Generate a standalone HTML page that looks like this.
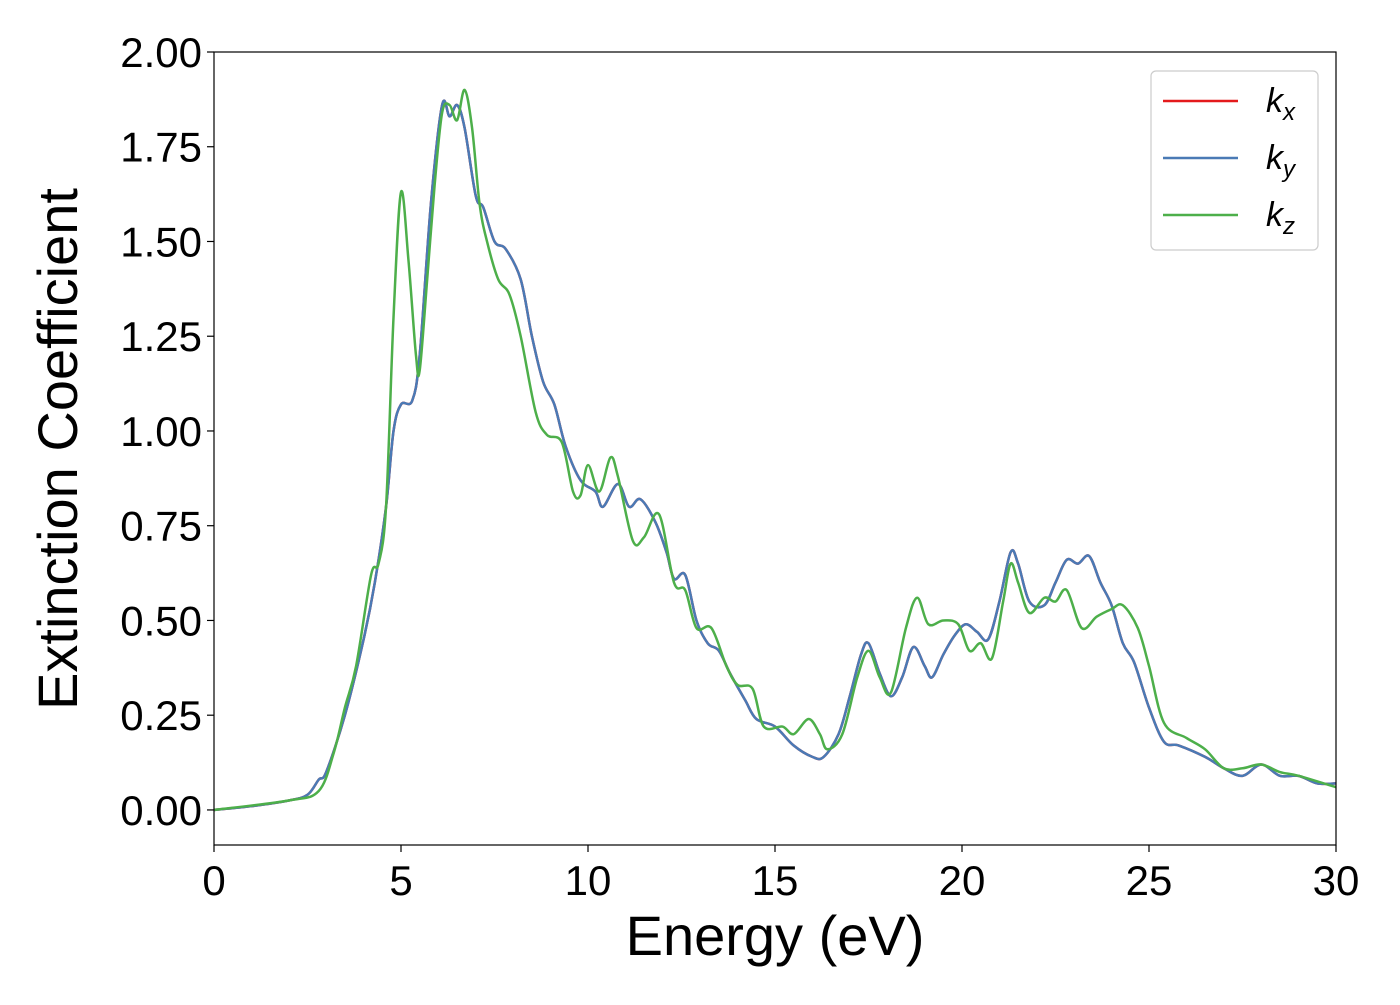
<!DOCTYPE html>
<html><head><meta charset="utf-8"><style>
body{margin:0;background:#fff;}
svg text{font-family:"Liberation Sans","DejaVu Sans",sans-serif;}
</style></head><body>
<svg id="chart" width="1400" height="1000" xmlns="http://www.w3.org/2000/svg">
<g id="marks"></g>
<g id="axes"></g>
</svg>
<script>
const xTicks=[0,5,10,15,20,25,30];
const yTicks=[0,0.25,0.5,0.75,1.0,1.25,1.5,1.75,2.0];
const yTickLabels=["0.00","0.25","0.50","0.75","1.00","1.25","1.50","1.75","2.00"];
const kxyEnergy=[0,1,2,2.5,2.8,3,3.5,4,4.3,4.6,4.8,5,5.3,5.5,5.8,6.1,6.3,6.5,6.7,7,7.2,7.5,7.8,8.2,8.5,8.8,9.1,9.4,9.8,10.2,10.4,10.8,11.1,11.4,11.8,12.1,12.3,12.6,12.9,13.2,13.5,13.8,14.2,14.5,15,15.5,16,16.3,16.7,17,17.3,17.5,17.8,18.1,18.4,18.7,19,19.2,19.5,19.8,20.1,20.4,20.7,21,21.3,21.5,21.8,22.2,22.5,22.8,23.1,23.4,23.7,24,24.3,24.6,25,25.4,25.8,26.5,27,27.5,28,28.5,29,29.5,30];
const kxValues=[0,0.01,0.025,0.04,0.08,0.1,0.25,0.45,0.6,0.8,1.0,1.07,1.08,1.2,1.6,1.86,1.83,1.86,1.8,1.62,1.59,1.5,1.48,1.4,1.25,1.13,1.07,0.96,0.87,0.84,0.8,0.86,0.8,0.82,0.76,0.68,0.61,0.62,0.5,0.44,0.42,0.36,0.29,0.24,0.22,0.17,0.14,0.14,0.2,0.3,0.41,0.44,0.36,0.3,0.35,0.43,0.38,0.35,0.41,0.46,0.49,0.47,0.45,0.55,0.68,0.65,0.55,0.54,0.6,0.66,0.65,0.67,0.6,0.54,0.44,0.39,0.27,0.18,0.17,0.14,0.11,0.09,0.12,0.09,0.09,0.07,0.07];
const kyValues=kxValues.slice();
const kzEnergy=[0,2,2.8,3.2,3.5,3.8,4.2,4.4,4.6,4.8,5.0,5.2,5.4,5.5,5.7,5.9,6.1,6.3,6.5,6.7,6.9,7.1,7.3,7.6,7.9,8.2,8.6,8.9,9.3,9.6,9.8,10,10.3,10.6,10.8,11.2,11.5,11.9,12.3,12.6,12.9,13.3,13.7,14,14.4,14.7,15.2,15.5,15.9,16.2,16.4,16.8,17.2,17.5,17.8,18.1,18.5,18.8,19.1,19.5,19.9,20.2,20.5,20.8,21.1,21.3,21.5,21.8,22.2,22.5,22.8,23.2,23.6,24,24.3,24.7,25,25.4,26,26.5,27,27.5,28,28.5,29,30];
const kzValues=[0,0.025,0.05,0.15,0.27,0.38,0.62,0.65,0.8,1.3,1.63,1.45,1.2,1.16,1.4,1.65,1.84,1.86,1.82,1.9,1.8,1.6,1.5,1.4,1.36,1.25,1.05,0.99,0.97,0.84,0.83,0.91,0.84,0.93,0.88,0.71,0.72,0.78,0.6,0.58,0.48,0.48,0.38,0.33,0.32,0.22,0.22,0.2,0.24,0.2,0.16,0.2,0.35,0.42,0.35,0.31,0.48,0.56,0.49,0.5,0.49,0.42,0.44,0.4,0.55,0.65,0.6,0.52,0.56,0.55,0.58,0.48,0.51,0.53,0.54,0.48,0.38,0.23,0.19,0.16,0.11,0.11,0.12,0.1,0.09,0.06];

const L=214,R=1336,T=52,B=845,xMin=0,xMax=30,yMin=-0.0925,yMax=2.0;
const sx=v=>L+(v-xMin)/(xMax-xMin)*(R-L);
const sy=v=>B-(v-yMin)/(yMax-yMin)*(B-T);
const NS="http://www.w3.org/2000/svg";
function mk(tag,attrs,parent){const e=document.createElementNS(NS,tag);for(const k in attrs)e.setAttribute(k,attrs[k]);parent.appendChild(e);return e;}
function smoothPath(xs,ys){const p=xs.map((x,i)=>[sx(x),sy(ys[i])]);let d="M"+p[0][0]+","+p[0][1];
for(let i=0;i<p.length-1;i++){const p0=p[Math.max(0,i-1)],p1=p[i],p2=p[i+1],p3=p[Math.min(p.length-1,i+2)];
const c1=[p1[0]+(p2[0]-p0[0])/6,p1[1]+(p2[1]-p0[1])/6],c2=[p2[0]-(p3[0]-p1[0])/6,p2[1]-(p3[1]-p1[1])/6];
d+=` C${c1[0]},${c1[1]} ${c2[0]},${c2[1]} ${p2[0]},${p2[1]}`;}return d;}
const marks=document.getElementById('marks'),axes=document.getElementById('axes');
mk('clipPath',{id:'clip'},marks).appendChild(Object.assign(document.createElementNS(NS,'rect'),{}));
const cr=marks.querySelector('clipPath rect');cr.setAttribute('x',L);cr.setAttribute('y',T);cr.setAttribute('width',R-L);cr.setAttribute('height',B-T);
const g=mk('g',{'clip-path':'url(#clip)'},marks);
const series=[[kxyEnergy,kxValues,'#e41a1c','kx-line'],[kxyEnergy,kyValues,'#4a7ab5','ky-line'],[kzEnergy,kzValues,'#4daf4a','kz-line']];
series.forEach(s=>{const p=mk('path',{d:smoothPath(s[0],s[1]),fill:'none',stroke:s[2],'stroke-width':2.5},g);

});
const frame=mk('rect',{x:L,y:T,width:R-L,height:B-T,fill:'none',stroke:'#000','stroke-width':1.2},axes);


xTicks.forEach(v=>{mk('line',{x1:sx(v),x2:sx(v),y1:B,y2:B+7,stroke:'#000','stroke-width':1.2},axes);
const t=mk('text',{x:sx(v),y:B+50,'font-size':42,'text-anchor':'middle'},axes);t.textContent=v;

});
yTicks.forEach((v,i)=>{mk('line',{x1:L-7,x2:L,y1:sy(v),y2:sy(v),stroke:'#000','stroke-width':1.2},axes);
const t=mk('text',{x:L-12,y:sy(v)+15,'font-size':42,'text-anchor':'end'},axes);t.textContent=yTickLabels[i];

});
const xt=mk('text',{x:775,y:955,'font-size':56,'text-anchor':'middle'},axes);xt.textContent='Energy (eV)';


const yt=mk('text',{x:0,y:0,'font-size':56,'text-anchor':'middle',transform:'translate(77,449) rotate(-90)'},axes);yt.textContent='Extinction Coefficient';


const lg=mk('g',{},axes);


mk('rect',{x:1151,y:71,width:167,height:179,rx:5,fill:'#fff',stroke:'#ccc','stroke-width':1.2},lg);
[['x','#e41a1c',101],['y','#4a7ab5',158],['z','#4daf4a',215]].forEach(e=>{
mk('line',{x1:1163,x2:1238,y1:e[2],y2:e[2],stroke:e[1],'stroke-width':2.5},lg);
const t=mk('text',{x:1266,y:e[2]+11,'font-size':34,'font-style':'italic'},lg);
t.innerHTML='k<tspan font-size="24" dy="8">'+e[0]+'</tspan>';

});
</script>
</body></html>
